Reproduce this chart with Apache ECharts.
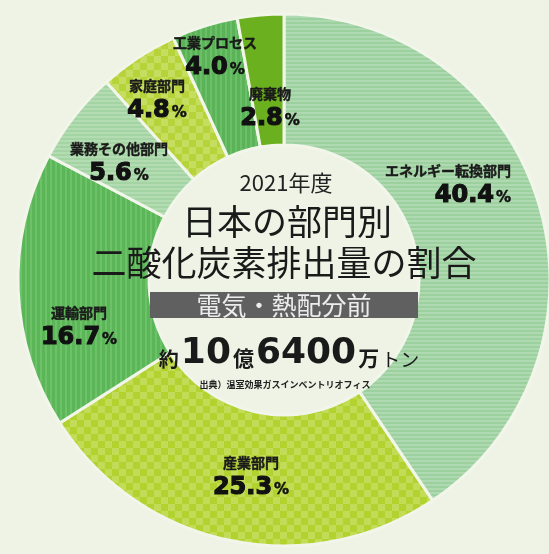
<!DOCTYPE html>
<html><head><meta charset="utf-8">
<script src="https://cdn.jsdelivr.net/npm/echarts@6/dist/echarts.min.js"></script>
<style>html,body{margin:0;padding:0;background:#eef3e5;} #c{width:549px;height:554px;}</style>
</head><body><div id="c"></div>
<script>
// ---- data ----
const categories = ['エネルギー転換部門','産業部門','運輸部門','業務その他部門','家庭部門','工業プロセス','廃棄物'];
const shares = [40.4, 25.3, 16.7, 5.6, 4.8, 4.0, 2.8];
const yearText = '2021年度';
const titleLine1 = '日本の部門別';
const titleLine2 = '二酸化炭素排出量の割合';
const bannerText = '電気・熱配分前';
const totalParts = ['約', '10', '億', '6400', '万', 'トン'];
const sourceText = '出典）温室効果ガスインベントリオフィス';

// ---- styles ----
function stripes(base, line, period, lw, vertical) {
  const c = document.createElement('canvas');
  c.width = period; c.height = period;
  const g = c.getContext('2d');
  g.fillStyle = base; g.fillRect(0, 0, period, period);
  g.fillStyle = line;
  if (vertical) g.fillRect(0, 0, lw, period); else g.fillRect(0, 0, period, lw);
  return { image: c, repeat: 'repeat' };
}
function checker(a, b, cell) {
  const c = document.createElement('canvas');
  c.width = cell * 2; c.height = cell * 2;
  const g = c.getContext('2d');
  g.fillStyle = a; g.fillRect(0, 0, cell * 2, cell * 2);
  g.fillStyle = b; g.fillRect(0, 0, cell, cell); g.fillRect(cell, cell, cell, cell);
  return { image: c, repeat: 'repeat' };
}
const fills = [
  stripes('#9dd09f', '#afd9b0', 4, 2, false),
  checker('#b2d22f', '#c2dc57', 7),
  stripes('#5bb658', '#6cc169', 5, 2, true),
  stripes('#a4d4a3', '#b4dcb2', 4, 2, false),
  checker('#b6d43a', '#c6de60', 7),
  stripes('#5ab457', '#6bbf68', 5, 2, true),
  '#6bb11f'
];
// label anchor: [x, y, align]
const labelPos = [
  [511, 183, 'right'],
  [251, 475, 'center'],
  [79, 325, 'center'],
  [119, 161, 'center'],
  [157, 98, 'center'],
  [215, 55, 'center'],
  [270, 106, 'center']
];

const chart = echarts.init(document.getElementById('c'), null, { renderer: 'canvas' });
const cjk = "'Noto Sans CJK JP', sans-serif";
const tc = { align: 'center', verticalAlign: 'middle', textAlign: 'center', textVerticalAlign: 'middle' };
chart.setOption({
  backgroundColor: '#eef3e5',
  animation: false,
  series: [{
    type: 'pie',
    center: [284, 280],
    radius: [135, 266],
    startAngle: 90,
    clockwise: true,
    silent: true,
    data: categories.map((n, i) => ({ name: n, value: shares[i], itemStyle: { color: fills[i] } })),
    itemStyle: { borderColor: '#f2f6ea', borderWidth: 3 },
    labelLine: { show: false },
    label: {
      show: true,
      position: 'inside',
      formatter: p => `{n|${p.name}}\n{p|${p.value.toFixed(1)}}{s|%}`,
      rich: {
        n: { fontFamily: cjk, fontWeight: 'bold', fontSize: 14, color: '#1a1a1a', lineHeight: 25, textBorderColor: '#1a1a1a', textBorderWidth: 0.4 },
        p: { fontFamily: 'DejaVu Sans', fontWeight: 'bold', fontSize: 24, color: '#111', lineHeight: 25, textBorderColor: '#111', textBorderWidth: 1.2 },
        s: { fontFamily: 'DejaVu Sans', fontWeight: 'bold', fontSize: 15, color: '#111', lineHeight: 25, padding: [5, 0, 0, 2], textBorderColor: '#111', textBorderWidth: 0.5 }
      }
    },
    labelLayout: function (params) {
      const L = labelPos[params.dataIndex];
      return { x: L[0], y: L[1], align: L[2], verticalAlign: 'middle' };
    }
  }],
  graphic: [
    { type: 'text', z: 100, x: 286, y: 183, style: Object.assign({ text: yearText, font: "22px 'Noto Sans CJK JP'", fill: '#222' }, tc) },
    { type: 'text', z: 100, x: 287, y: 222, style: Object.assign({ text: titleLine1, font: "35px 'Noto Sans CJK JP'", fill: '#1a1a1a' }, tc) },
    { type: 'text', z: 100, x: 284, y: 263, style: Object.assign({ text: titleLine2, font: "35px 'Noto Sans CJK JP'", fill: '#1a1a1a' }, tc) },
    { type: 'rect', z: 100, shape: { x: 150, y: 292, width: 268, height: 26 }, style: { fill: '#606060' } },
    { type: 'text', z: 101, x: 284, y: 305, style: Object.assign({ text: bannerText, font: "25px 'Noto Sans CJK JP'", fill: '#ececec' }, tc) },
    { type: 'text', z: 100, x: 289, y: 354, style: Object.assign({
        text: `{a|${totalParts[0]}}{b|${totalParts[1]}}{c|${totalParts[2]}}{b|${totalParts[3]}}{c|${totalParts[4]}}{d|${totalParts[5]}}`,
        rich: {
          a: { fontFamily: cjk, fontWeight: 'bold', fontSize: 20, fill: '#1a1a1a', lineHeight: 40, padding: [10, 2, 0, 0] },
          b: { fontFamily: 'DejaVu Sans', fontWeight: 'bold', fontSize: 36, fill: '#1a1a1a', lineHeight: 40 },
          c: { fontFamily: cjk, fontWeight: 'bold', fontSize: 21, fill: '#1a1a1a', lineHeight: 40, padding: [8, 2, 0, 2] },
          d: { fontFamily: cjk, fontWeight: 'normal', fontSize: 19, fill: '#1a1a1a', lineHeight: 40, padding: [12, 0, 0, 0] }
        } }, tc) },
    { type: 'text', z: 100, x: 285, y: 385, style: Object.assign({ text: sourceText, font: "bold 9px 'Noto Sans CJK JP'", fill: '#222' }, tc) }
  ]
});
</script>
</body></html>
